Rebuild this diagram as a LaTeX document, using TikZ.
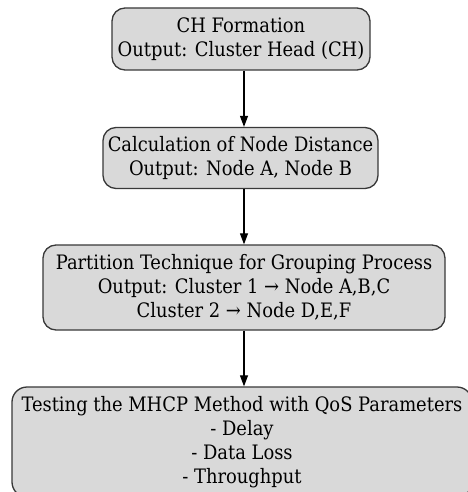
\documentclass[tikz,border=0pt]{standalone}
\usepackage{fontspec}
\setmainfont{DejaVu Serif Condensed}
\usetikzlibrary{arrows.meta}
\begin{document}
\begin{tikzpicture}[x=1pt,y=-1pt,
  stage/.style={draw=black!78,line width=1.3pt,fill=gray!30,rounded corners=13pt,
    align=center,inner sep=0pt,font=\fontsize{19.9}{24}\selectfont},
  flow/.style={-{Triangle[length=11pt,width=8pt]},line width=1.1pt}]
\useasboundingbox (0,0) rectangle (467,492);

% Stages
\node[stage,minimum width=258pt,minimum height=62pt] (form) at (241,39)
  {CH Formation\\Output: Cluster Head (CH)};
\node[stage,minimum width=275pt,minimum height=61pt] (dist) at (240.5,158)
  {Calculation of Node Distance\\Output: Node A, Node B};
\node[stage,minimum width=402pt,minimum height=85pt] (part) at (244,287.5)
  {Partition Technique for Grouping Process\\Output: Cluster 1 → Node A,B,C\\Cluster 2 → Node D,E,F};
\node[stage,rounded corners=15pt,minimum width=460pt,minimum height=110pt] (test) at (242,442)
  {Testing the MHCP Method with QoS Parameters\\- Delay\\- Data Loss\\- Throughput};

% Arrows
\coordinate (axis) at (244,0);
\draw[flow] (form.south -| axis) -- (dist.north -| axis);
\draw[flow] (dist.south -| axis) -- (part.north -| axis);
\draw[flow] (part.south -| axis) -- (test.north -| axis);
\end{tikzpicture}
\end{document}
